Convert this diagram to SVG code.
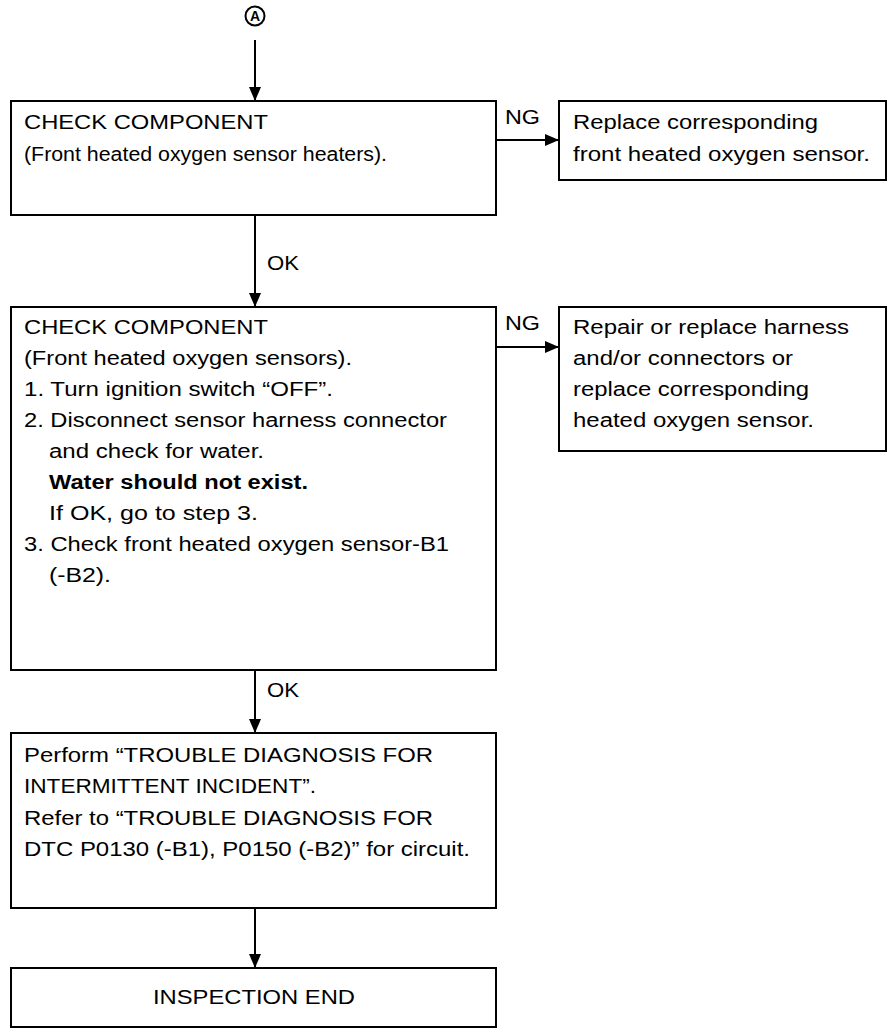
<svg xmlns="http://www.w3.org/2000/svg" width="896" height="1036" viewBox="0 0 896 1036">
<defs>
<marker id="ah" markerWidth="14" markerHeight="12" refX="14" refY="6" orient="auto" markerUnits="userSpaceOnUse">
<path d="M0,0 L14,6 L0,12 Z" fill="#000"/>
</marker>
<style>
.box{fill:#fff;stroke:#000;stroke-width:2}
.t{font-family:"Liberation Sans",Arial,sans-serif;font-size:20px;fill:#000}
.b{font-weight:bold}
.c{stroke:#000;stroke-width:2;fill:none}
</style>
</defs>
<rect width="896" height="1036" fill="#fff"/>
<g id="startA">
<circle cx="255" cy="16" r="9.5" fill="#fff" stroke="#000" stroke-width="2"/>
<text x="255" y="21" text-anchor="middle" font-family="Liberation Sans,Arial,sans-serif" font-size="14" font-weight="bold">A</text>
</g>
<g id="connectors">
<line class="c" x1="255" y1="40" x2="255" y2="101" marker-end="url(#ah)"/>
<line class="c" x1="496" y1="140" x2="559" y2="140" marker-end="url(#ah)"/>
<line class="c" x1="255" y1="215" x2="255" y2="307" marker-end="url(#ah)"/>
<line class="c" x1="496" y1="347" x2="559" y2="347" marker-end="url(#ah)"/>
<line class="c" x1="255" y1="670" x2="255" y2="733" marker-end="url(#ah)"/>
<line class="c" x1="255" y1="908" x2="255" y2="968" marker-end="url(#ah)"/>
<text class="t" x="505" y="124" textLength="35" lengthAdjust="spacingAndGlyphs">NG</text>
<text class="t" x="267" y="270" textLength="32" lengthAdjust="spacingAndGlyphs">OK</text>
<text class="t" x="505" y="330" textLength="35" lengthAdjust="spacingAndGlyphs">NG</text>
<text class="t" x="267" y="697" textLength="32" lengthAdjust="spacingAndGlyphs">OK</text>
</g>
<g id="check1">
<rect class="box" x="11" y="101" width="485" height="114"/>
<text class="t" x="24" y="129" textLength="244" lengthAdjust="spacingAndGlyphs">CHECK COMPONENT</text>
<text class="t" x="24" y="161" textLength="363" lengthAdjust="spacingAndGlyphs">(Front heated oxygen sensor heaters).</text>
</g>
<g id="ng1">
<rect class="box" x="559" y="101" width="327" height="79"/>
<text class="t" x="573" y="129" textLength="245" lengthAdjust="spacingAndGlyphs">Replace corresponding</text>
<text class="t" x="573" y="161" textLength="297" lengthAdjust="spacingAndGlyphs">front heated oxygen sensor.</text>
</g>
<g id="check2">
<rect class="box" x="11" y="307" width="485" height="363"/>
<text class="t" x="24" y="334" textLength="244" lengthAdjust="spacingAndGlyphs">CHECK COMPONENT</text>
<text class="t" x="24" y="365" textLength="328" lengthAdjust="spacingAndGlyphs">(Front heated oxygen sensors).</text>
<text class="t" x="24" y="396" textLength="309" lengthAdjust="spacingAndGlyphs">1. Turn ignition switch “OFF”.</text>
<text class="t" x="24" y="427" textLength="423" lengthAdjust="spacingAndGlyphs">2. Disconnect sensor harness connector</text>
<text class="t" x="49" y="458" textLength="215" lengthAdjust="spacingAndGlyphs">and check for water.</text>
<text class="t b" x="49" y="489" textLength="259" lengthAdjust="spacingAndGlyphs">Water should not exist.</text>
<text class="t" x="49" y="520" textLength="209" lengthAdjust="spacingAndGlyphs">If OK, go to step 3.</text>
<text class="t" x="24" y="551" textLength="425" lengthAdjust="spacingAndGlyphs">3. Check front heated oxygen sensor-B1</text>
<text class="t" x="49" y="582" textLength="62" lengthAdjust="spacingAndGlyphs">(-B2).</text>
</g>
<g id="ng2">
<rect class="box" x="559" y="307" width="327" height="144"/>
<text class="t" x="573" y="334" textLength="276" lengthAdjust="spacingAndGlyphs">Repair or replace harness</text>
<text class="t" x="573" y="365" textLength="220" lengthAdjust="spacingAndGlyphs">and/or connectors or</text>
<text class="t" x="573" y="396" textLength="236" lengthAdjust="spacingAndGlyphs">replace corresponding</text>
<text class="t" x="573" y="427" textLength="241" lengthAdjust="spacingAndGlyphs">heated oxygen sensor.</text>
</g>
<g id="perform">
<rect class="box" x="11" y="733" width="485" height="175"/>
<text class="t" x="24" y="762" textLength="409" lengthAdjust="spacingAndGlyphs">Perform “TROUBLE DIAGNOSIS FOR</text>
<text class="t" x="24" y="793" textLength="292" lengthAdjust="spacingAndGlyphs">INTERMITTENT INCIDENT”.</text>
<text class="t" x="24" y="825" textLength="409" lengthAdjust="spacingAndGlyphs">Refer to “TROUBLE DIAGNOSIS FOR</text>
<text class="t" x="24" y="856" textLength="446" lengthAdjust="spacingAndGlyphs">DTC P0130 (-B1), P0150 (-B2)” for circuit.</text>
</g>
<g id="end">
<rect class="box" x="11" y="968" width="485" height="59"/>
<text class="t" x="153" y="1004" textLength="202" lengthAdjust="spacingAndGlyphs">INSPECTION END</text>
</g>
</svg>
